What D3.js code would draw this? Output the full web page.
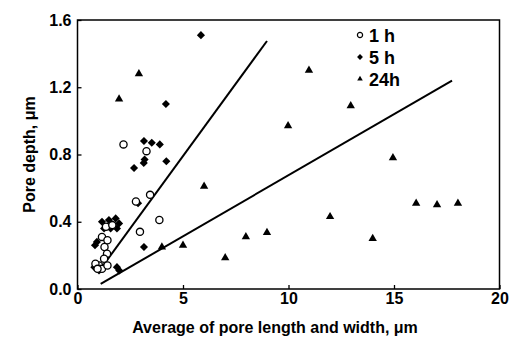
<!DOCTYPE html>
<html>
<head>
<meta charset="utf-8">
<script src="https://cdn.jsdelivr.net/npm/d3@7"></script>
<style>
  body { margin: 0; background: #fff; }
  svg { display: block; font-family: 'Liberation Sans', Arial, sans-serif; }
</style>
</head>
<body>
<div id="chart"></div>
<script>
const xTicks = [0, 5, 10, 15, 20];
const yTicks = [0, 0.4, 0.8, 1.2, 1.6];

// 1 h (open circles)
const h1 = [
  [2.18, 0.86], [3.27, 0.82], [2.77, 0.52], [3.44, 0.56], [3.88, 0.41], [2.96, 0.34],
  [1.16, 0.31], [1.42, 0.29], [1.28, 0.25], [1.40, 0.21], [1.26, 0.18], [1.02, 0.14],
  [1.16, 0.12], [1.42, 0.14], [0.85, 0.15], [1.35, 0.37], [1.65, 0.38], [0.95, 0.12]
];
// 5 h (filled diamonds)
const h5 = [
  [5.85, 1.51], [4.19, 1.10], [3.15, 0.88], [3.52, 0.87], [3.90, 0.86], [3.18, 0.77],
  [3.14, 0.75], [2.68, 0.72], [4.21, 0.76], [2.87, 0.51], [3.15, 0.25], [1.98, 0.11],
  [1.16, 0.40], [1.49, 0.41], [1.81, 0.42], [1.97, 0.39], [1.26, 0.36], [1.57, 0.36],
  [1.87, 0.36], [0.92, 0.28], [0.80, 0.13], [1.02, 0.11], [1.87, 0.13], [0.83, 0.26]
];
// 24 h (filled triangles)
const h24 = [
  [1.97, 1.13], [2.91, 1.28], [10.97, 1.30], [9.98, 0.97], [12.95, 1.09], [14.95, 0.78],
  [16.05, 0.51], [17.04, 0.50], [18.03, 0.51], [11.97, 0.43], [13.99, 0.30], [8.98, 0.335],
  [7.98, 0.31], [6.0, 0.61], [5.0, 0.26], [4.0, 0.25], [7.0, 0.185]
];
// fitted lines
const steepLine = [[1.1, 0.12], [8.98, 1.475]];
const shallowLine = [[1.1, 0.03], [17.75, 1.24]];

const width = 520, height = 340;
const svg = d3.select('#chart').append('svg').attr('width', width).attr('height', height);

const x = d3.scaleLinear().domain([0, 20]).range([77.5, 499.5]);
const y = d3.scaleLinear().domain([0, 1.6]).range([289, 20]);

// frame
svg.append('rect')
  .attr('x', x(0)).attr('y', y(1.6))
  .attr('width', x(20) - x(0)).attr('height', y(0) - y(1.6))
  .attr('fill', 'none').attr('stroke', '#000').attr('stroke-width', 1.5);

const xAxis = svg.append('g')
  .attr('transform', `translate(0,${y(0)})`)
  .call(d3.axisBottom(x).tickValues(xTicks).tickSizeInner(-4).tickSizeOuter(0).tickPadding(4));
const yAxis = svg.append('g')
  .attr('transform', `translate(${x(0)},0)`)
  .call(d3.axisLeft(y).tickValues(yTicks).tickFormat(d3.format('.1f')).tickSizeInner(-4).tickSizeOuter(0).tickPadding(6));

[xAxis, yAxis].forEach(g => {
  g.select('.domain').remove();
  g.selectAll('line').attr('stroke', '#000').attr('stroke-width', 1.3);
  g.selectAll('text')
    .attr('fill', '#000')
    .style('font-size', '16px')
    .style('font-weight', 'bold')
    .style('font-family', "'Liberation Sans', Arial, sans-serif");
});

svg.append('text')
  .attr('x', 275).attr('y', 333)
  .attr('text-anchor', 'middle')
  .style('font-size', '16px').style('font-weight', 'bold')
  .text('Average of pore length and width, μm');

svg.append('text')
  .attr('transform', `translate(35,${(y(0) + y(1.6)) / 2}) rotate(-90)`)
  .attr('text-anchor', 'middle')
  .style('font-size', '16px').style('font-weight', 'bold')
  .text('Pore depth, μm');

// lines
const line = d3.line().x(d => x(d[0])).y(d => y(d[1]));
[steepLine, shallowLine].forEach(l => {
  svg.append('path').attr('d', line(l))
    .attr('fill', 'none').attr('stroke', '#000').attr('stroke-width', 2);
});

// markers
const diamond = d3.symbol().type(d3.symbolDiamond2).size(42);
const tri = d3.symbol().type(d3.symbolTriangle2).size(50);

svg.append('g').selectAll('path')
  .data(h24).enter().append('path')
    .attr('transform', d => `translate(${x(d[0])},${y(d[1])})`)
    .attr('d', tri).attr('fill', '#000');

svg.append('g').selectAll('path')
  .data(h5).enter().append('path')
    .attr('transform', d => `translate(${x(d[0])},${y(d[1])})`)
    .attr('d', diamond).attr('fill', '#000');

svg.append('g').selectAll('circle')
  .data(h1).enter().append('circle')
    .attr('cx', d => x(d[0])).attr('cy', d => y(d[1]))
    .attr('r', 3.6).attr('fill', '#fff').attr('stroke', '#000').attr('stroke-width', 1.3);

// legend
const legend = [
  { label: '1 h', type: 'circle' },
  { label: '5 h', type: 'diamond' },
  { label: '24h', type: 'triangle' }
];
const lg = svg.append('g').attr('transform', 'translate(360,35)');
legend.forEach((d, i) => {
  const row = lg.append('g').attr('transform', `translate(0,${i * 22})`);
  if (d.type === 'circle') {
    row.append('circle').attr('r', 2.6).attr('fill', '#fff').attr('stroke', '#000').attr('stroke-width', 1.2);
  } else if (d.type === 'diamond') {
    row.append('path').attr('d', d3.symbol().type(d3.symbolDiamond2).size(22)).attr('fill', '#000');
  } else {
    row.append('path').attr('d', d3.symbol().type(d3.symbolTriangle2).size(22)).attr('fill', '#000');
  }
  row.append('text').attr('x', 9).attr('y', 7)
    .style('font-size', '18px').style('font-weight', 'bold')
    .text(d.label);
});
</script>
</body>
</html>
